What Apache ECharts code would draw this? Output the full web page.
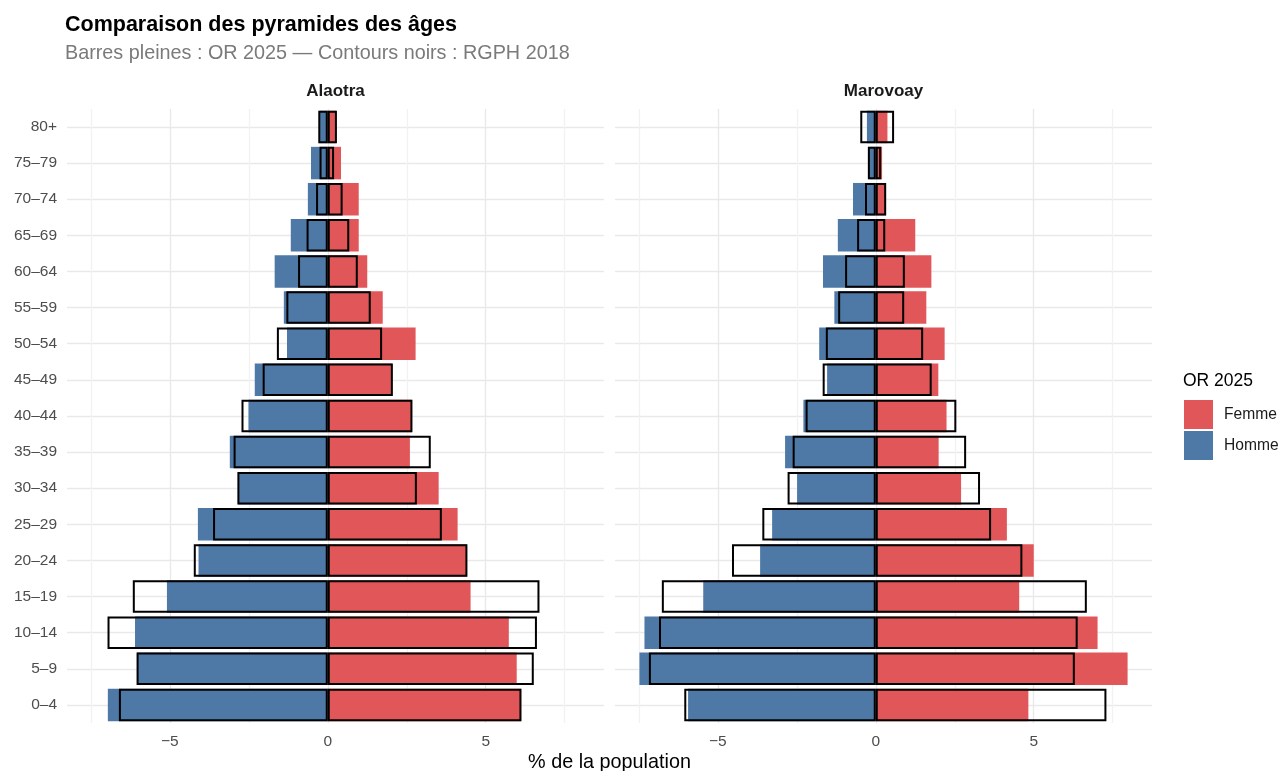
<!DOCTYPE html>
<html><head><meta charset="utf-8">
<script src="https://cdn.jsdelivr.net/npm/echarts@6/dist/echarts.min.js"></script>
<style>html,body{margin:0;padding:0;background:#fff}#c{width:1283px;height:771px}</style>
</head><body><div id="c"></div>
<script>
// Age groups, bottom (youngest) to top (oldest)
const ageGroups = ['0–4','5–9','10–14','15–19','20–24','25–29','30–34','35–39','40–44','45–49','50–54','55–59','60–64','65–69','70–74','75–79','80+'];
const panelNames = ['Alaotra','Marovoay'];
const xTickLabels = [-5, 0, 5];
const xGridValues = [-7.5, -5, -2.5, 0, 2.5, 5, 7.5];

// Alaotra — OR 2025 (filled)
const alaotraFemme2025 = [6.12, 5.98, 5.73, 4.52, 4.40, 4.11, 3.51, 2.60, 2.66, 2.04, 2.78, 1.74, 1.25, 0.98, 0.98, 0.42, 0.26];
const alaotraHomme2025 = [-6.96, -6.04, -6.10, -5.09, -4.09, -4.11, -2.83, -3.10, -2.51, -2.31, -1.29, -1.39, -1.68, -1.17, -0.63, -0.53, -0.27];
// Alaotra — RGPH 2018 (outline)
const alaotraFemme2018 = [6.13, 6.52, 6.62, 6.70, 4.42, 3.61, 2.82, 3.26, 2.68, 2.06, 1.72, 1.36, 0.95, 0.68, 0.47, 0.20, 0.29];
const alaotraHomme2018 = [-6.61, -6.05, -6.97, -6.17, -4.24, -3.63, -2.86, -2.98, -2.73, -2.06, -1.61, -1.31, -0.94, -0.67, -0.37, -0.26, -0.30];

// Marovoay — OR 2025 (filled)
const marovoayFemme2025 = [4.83, 7.97, 7.02, 4.54, 5.00, 4.15, 2.70, 1.99, 2.24, 1.98, 2.18, 1.60, 1.76, 1.25, 0.32, 0.20, 0.37];
const marovoayHomme2025 = [-5.94, -7.48, -7.32, -5.46, -3.66, -3.28, -2.49, -2.87, -2.29, -1.54, -1.79, -1.31, -1.67, -1.20, -0.72, -0.23, -0.28];
// Marovoay — RGPH 2018 (outline)
const marovoayFemme2018 = [7.30, 6.30, 6.39, 6.68, 4.64, 3.65, 3.30, 2.86, 2.55, 1.77, 1.50, 0.90, 0.92, 0.30, 0.33, 0.17, 0.58];
const marovoayHomme2018 = [-6.06, -7.18, -6.86, -6.77, -4.55, -3.59, -2.79, -2.63, -2.22, -1.68, -1.58, -1.19, -0.97, -0.59, -0.34, -0.25, -0.49];

const panelData = [
  {f25: alaotraFemme2025, h25: alaotraHomme2025, f18: alaotraFemme2018, h18: alaotraHomme2018},
  {f25: marovoayFemme2025, h25: marovoayHomme2025, f18: marovoayFemme2018, h18: marovoayHomme2018}
];

const RED = '#E15759', BLUE = '#4E79A7';
const FONT = '"Liberation Sans", Arial, Helvetica, sans-serif';

// shared x range: data range expanded by 5% on each side
let all = [];
panelData.forEach(p => { all = all.concat(p.f25, p.h25, p.f18, p.h18); });
const dMin = Math.min(...all), dMax = Math.max(...all);
const pad = (dMax - dMin) * 0.05;
const xMin = dMin - pad, xMax = dMax + pad;

const gridTop = 108.9, gridH = 614.1, gridW = 537;
const gridLefts = [67, 615];
const AXIS_FS = 15.5;

const fmt = v => (v < 0 ? '\u2212' + Math.abs(v) : String(v));

const grids = [], xAxes = [], yAxes = [], series = [], graphics = [];
gridLefts.forEach((left, i) => {
  grids.push({left: left, top: gridTop, width: gridW, height: gridH, containLabel: false});
  xAxes.push({
    type: 'value', gridIndex: i, min: xMin, max: xMax,
    axisLine: {show: false}, axisTick: {show: false, customValues: xGridValues},
    axisLabel: {customValues: xTickLabels, formatter: fmt, color: '#4d4d4d', fontSize: AXIS_FS, fontFamily: FONT, margin: 11},
    splitLine: {show: true, lineStyle: {color: ['#f2f2f2', '#e9e9e9'], width: 1.4}}
  });
  yAxes.push({
    type: 'category', gridIndex: i, data: ageGroups,
    axisLine: {show: false}, axisTick: {show: false, alignWithLabel: true},
    axisLabel: {show: i === 0, color: '#4d4d4d', fontSize: AXIS_FS, fontFamily: FONT, margin: 10},
    splitLine: {show: true, alignWithLabel: true, lineStyle: {color: '#e9e9e9', width: 1.4}}
  });
  const p = panelData[i];
  const common = {type: 'bar', xAxisIndex: i, yAxisIndex: i, barWidth: '90%', barGap: '-100%', emphasis: {disabled: true}, silent: true};
  series.push(Object.assign({}, common, {name: 'Femme', stack: 'or' + i, data: p.f25, itemStyle: {color: RED}}));
  series.push(Object.assign({}, common, {name: 'Homme', stack: 'or' + i, data: p.h25, itemStyle: {color: BLUE}}));
  series.push(Object.assign({}, common, {name: 'RGPH 2018 Femme', stack: 'rg' + i, data: p.f18, z: 3,
    itemStyle: {color: 'rgba(0,0,0,0)', borderColor: '#000', borderWidth: 2}}));
  series.push(Object.assign({}, common, {name: 'RGPH 2018 Homme', stack: 'rg' + i, data: p.h18, z: 3,
    itemStyle: {color: 'rgba(0,0,0,0)', borderColor: '#000', borderWidth: 2}}));
  graphics.push({type: 'text', x: left + gridW / 2, y: 91,
    style: {text: panelNames[i], textAlign: 'center', textVerticalAlign: 'middle', fontSize: 17, fontWeight: 'bold', fill: '#1a1a1a', fontFamily: FONT}});
});

graphics.push({type: 'text', x: (gridLefts[0] + gridLefts[1] + gridW) / 2, y: 763,
  style: {text: '% de la population', textAlign: 'center', textVerticalAlign: 'middle', fontSize: 19.8, fill: '#000', fontFamily: FONT}});
graphics.push({type: 'text', x: 1183, y: 381,
  style: {text: 'OR 2025', textAlign: 'left', textVerticalAlign: 'middle', fontSize: 17.5, fill: '#000', fontFamily: FONT}});

const chart = echarts.init(document.getElementById('c'), null, {renderer: 'canvas'});
chart.setOption({
  animation: false,
  backgroundColor: '#fff',
  title: {
    text: 'Comparaison des pyramides des âges',
    subtext: 'Barres pleines : OR 2025 — Contours noirs : RGPH 2018',
    left: 60, top: 9.5, itemGap: 7.5,
    textStyle: {fontSize: 21.5, fontWeight: 'bold', color: '#000', fontFamily: FONT},
    subtextStyle: {fontSize: 19.8, color: '#7a7a7a', fontFamily: FONT}
  },
  legend: {
    data: ['Femme', 'Homme'], orient: 'vertical', left: 1184, top: 400, padding: 0,
    itemWidth: 29, itemHeight: 29, itemGap: 2, icon: 'rect', selectedMode: false,
    textStyle: {fontSize: 15.6, color: '#1a1a1a', fontFamily: FONT, padding: [0, 0, 0, 6]}
  },
  grid: grids, xAxis: xAxes, yAxis: yAxes, series: series, graphic: graphics
});
</script></body></html>
